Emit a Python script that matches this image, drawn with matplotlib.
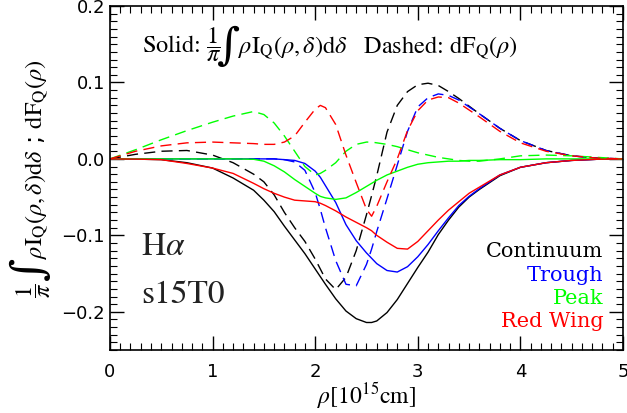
#PURPOSE: recreate the H-alpha s15T0 polarisation profile plot

import matplotlib
matplotlib.use('Agg')
import matplotlib.pyplot as plt
from matplotlib.ticker import MultipleLocator

plt.rcParams['mathtext.fontset'] = 'stix'

#radius in units of 1e15 cm
rho = [0, 0.25, 0.5, 0.75, 1.0, 1.2, 1.4, 1.5, 1.6, 1.7, 1.8, 1.9, 2.0, 2.05,
       2.1, 2.2, 2.3, 2.4, 2.5, 2.55, 2.6, 2.7, 2.8, 2.9, 3.0, 3.1, 3.2, 3.3,
       3.4, 3.5, 3.6, 3.8, 4.0, 4.25, 4.5, 4.75, 5.0]

#solid curves: integral of rho*I_Q over delta
cont_solid = [0, -0.0003, -0.001, -0.005, -0.012, -0.025, -0.041, -0.054, -0.069,
              -0.088, -0.106, -0.124, -0.144, -0.154, -0.164, -0.183, -0.199, -0.209,
              -0.214, -0.214, -0.212, -0.201, -0.184, -0.163, -0.142, -0.122, -0.099,
              -0.080, -0.063, -0.050, -0.040, -0.022, -0.011, -0.005, -0.002, -0.0005, 0]
trough_solid = [0, 0, 0, 0, 0, 0, 0, 0, 0, -0.001, -0.002, -0.006, -0.016, -0.024,
                -0.035, -0.057, -0.086, -0.107, -0.123, -0.130, -0.137, -0.146, -0.148,
                -0.141, -0.128, -0.112, -0.094, -0.077, -0.061, -0.049, -0.039, -0.021,
                -0.011, -0.005, -0.002, -0.0005, 0]
peak_solid = [0, 0, 0, 0, 0, 0, -0.0005, -0.003, -0.009, -0.017, -0.027, -0.036,
              -0.045, -0.049, -0.051, -0.053, -0.051, -0.044, -0.036, -0.032, -0.028,
              -0.021, -0.016, -0.011, -0.007, -0.005, -0.004, -0.003, -0.003, -0.002,
              -0.002, -0.001, -0.001, 0, 0, 0, 0]
wing_solid = [0, -0.0003, -0.001, -0.006, -0.012, -0.019, -0.032, -0.039, -0.045,
              -0.050, -0.054, -0.055, -0.056, -0.058, -0.061, -0.068, -0.076, -0.083,
              -0.090, -0.094, -0.100, -0.109, -0.117, -0.118, -0.108, -0.094, -0.080,
              -0.067, -0.056, -0.045, -0.037, -0.021, -0.011, -0.005, -0.002, -0.0005, 0]

#dashed curves: dF_Q(rho)
cont_dash = [0, 0.006, 0.010, 0.011, 0.005, -0.005, -0.020, -0.030, -0.047, -0.070,
             -0.090, -0.108, -0.131, -0.144, -0.157, -0.171, -0.155, -0.120, -0.073,
             -0.048, -0.022, 0.035, 0.070, 0.088, 0.097, 0.099, 0.096, 0.088, 0.079,
             0.069, 0.059, 0.040, 0.024, 0.011, 0.004, 0.001, 0]
trough_dash = [0, 0, 0, 0, 0, 0, 0, 0, 0, -0.001, -0.004, -0.015, -0.044, -0.066,
               -0.090, -0.133, -0.164, -0.166, -0.138, -0.118, -0.095, -0.052, -0.008,
               0.036, 0.068, 0.080, 0.085, 0.083, 0.077, 0.068, 0.059, 0.040, 0.024,
               0.011, 0.004, 0.001, 0]
peak_dash = [0, 0.012, 0.025, 0.037, 0.048, 0.056, 0.062, 0.058, 0.047, 0.030, 0.010,
             -0.010, -0.021, -0.019, -0.015, -0.005, 0.010, 0.019, 0.022, 0.022, 0.021,
             0.019, 0.016, 0.012, 0.008, 0.005, 0.002, 0.000, -0.002, -0.003, -0.003,
             0.000, 0.004, 0.005, 0.004, 0.002, 0]
wing_dash = [0, 0.010, 0.017, 0.021, 0.022, 0.021, 0.020, 0.019, 0.019, 0.022, 0.030,
             0.048, 0.065, 0.070, 0.067, 0.045, 0.005, -0.031, -0.066, -0.075, -0.062,
             -0.030, 0.000, 0.037, 0.063, 0.077, 0.081, 0.080, 0.073, 0.064, 0.055,
             0.036, 0.021, 0.010, 0.004, 0.001, 0]

names = ['Continuum', 'Trough', 'Peak', 'Red Wing']
colors = ['black', 'blue', '#00ff00', 'red']
solids = [cont_solid, trough_solid, peak_solid, wing_solid]
dashes = [cont_dash, trough_dash, peak_dash, wing_dash]

W, H = 627, 413
fig = plt.figure(figsize=(W / 100, H / 100), dpi=100)
ax = fig.add_axes([0.1754, 0.1525, 0.8182, 0.833])


def pix(x, y):
    '''convert pixel position (from top left) to figure fraction'''
    return x / W, 1 - y / H


#draw each region: solid then dashed
for sol, das, col in zip(solids, dashes, colors):
    ax.plot(rho, sol, color=col, lw=1.0)
    ax.plot(rho, das, color=col, lw=1.0, dashes=(8, 4.5))

ax.set_xlim(0, 5)
ax.set_ylim(-0.25, 0.2)
ax.xaxis.set_major_locator(MultipleLocator(1))
ax.xaxis.set_minor_locator(MultipleLocator(0.1))
ax.yaxis.set_major_locator(MultipleLocator(0.1))
ax.yaxis.set_minor_locator(MultipleLocator(0.01))
ax.tick_params(which='both', direction='in', top=True, right=True, labelsize=13)
ax.tick_params(which='major', length=10, width=1)
ax.tick_params(which='minor', length=5, width=0.8)
ax.tick_params(axis='x', pad=9)
for sp in ax.spines.values():
    sp.set_linewidth(1.2)

ax.set_xlabel(r'$\rho[10^{15}\mathrm{cm}]$', fontsize=17, labelpad=0)

#y label built from pieces so the integral sign can be large
fs = 17.5
fig.text(*pix(42, 298), r'$\dfrac{1}{\pi}$', rotation=90, rotation_mode='anchor',
         ha='left', va='baseline', fontsize=fs)
fig.text(*pix(29, 268), '\u222b', rotation=90, rotation_mode='anchor',
         ha='center', va='center', fontsize=32, family='DejaVu Serif')
fig.text(*pix(42, 259), r'$\rho\mathrm{I_Q}(\rho,\delta)\mathrm{d}\delta$ ; '
         r'$\mathrm{dF_Q}(\rho)$', rotation=90, rotation_mode='anchor',
         ha='left', va='baseline', fontsize=fs)

#header formula
fig.text(*pix(142, 53), r'Solid: $\dfrac{1}{\pi}$', ha='left', va='baseline',
         fontsize=fs, family='STIXGeneral')
fig.text(*pix(229, 46), '\u222b', ha='center', va='center', fontsize=32,
         family='DejaVu Serif')
fig.text(*pix(238, 53), r'$\rho\mathrm{I_Q}(\rho,\delta)\mathrm{d}\delta$   '
         r'Dashed: $\mathrm{dF_Q}(\rho)$', ha='left', va='baseline',
         fontsize=fs, family='STIXGeneral')

ax.text(0.06, 0.30, r'H$\alpha$', transform=ax.transAxes, fontsize=24,
        family='STIXGeneral', color='#222222', va='center')
ax.text(0.06, 0.16, 's15T0', transform=ax.transAxes, fontsize=24,
        family='STIXGeneral', color='#222222', va='center')

#legend as coloured text
for i, (nm, col) in enumerate(zip(names, colors)):
    ax.text(0.962, 0.285 - i * 0.067, nm, transform=ax.transAxes, color=col,
            fontsize=15, family='DejaVu Serif', ha='right', va='center')

fig.savefig('out.png', dpi=100)
